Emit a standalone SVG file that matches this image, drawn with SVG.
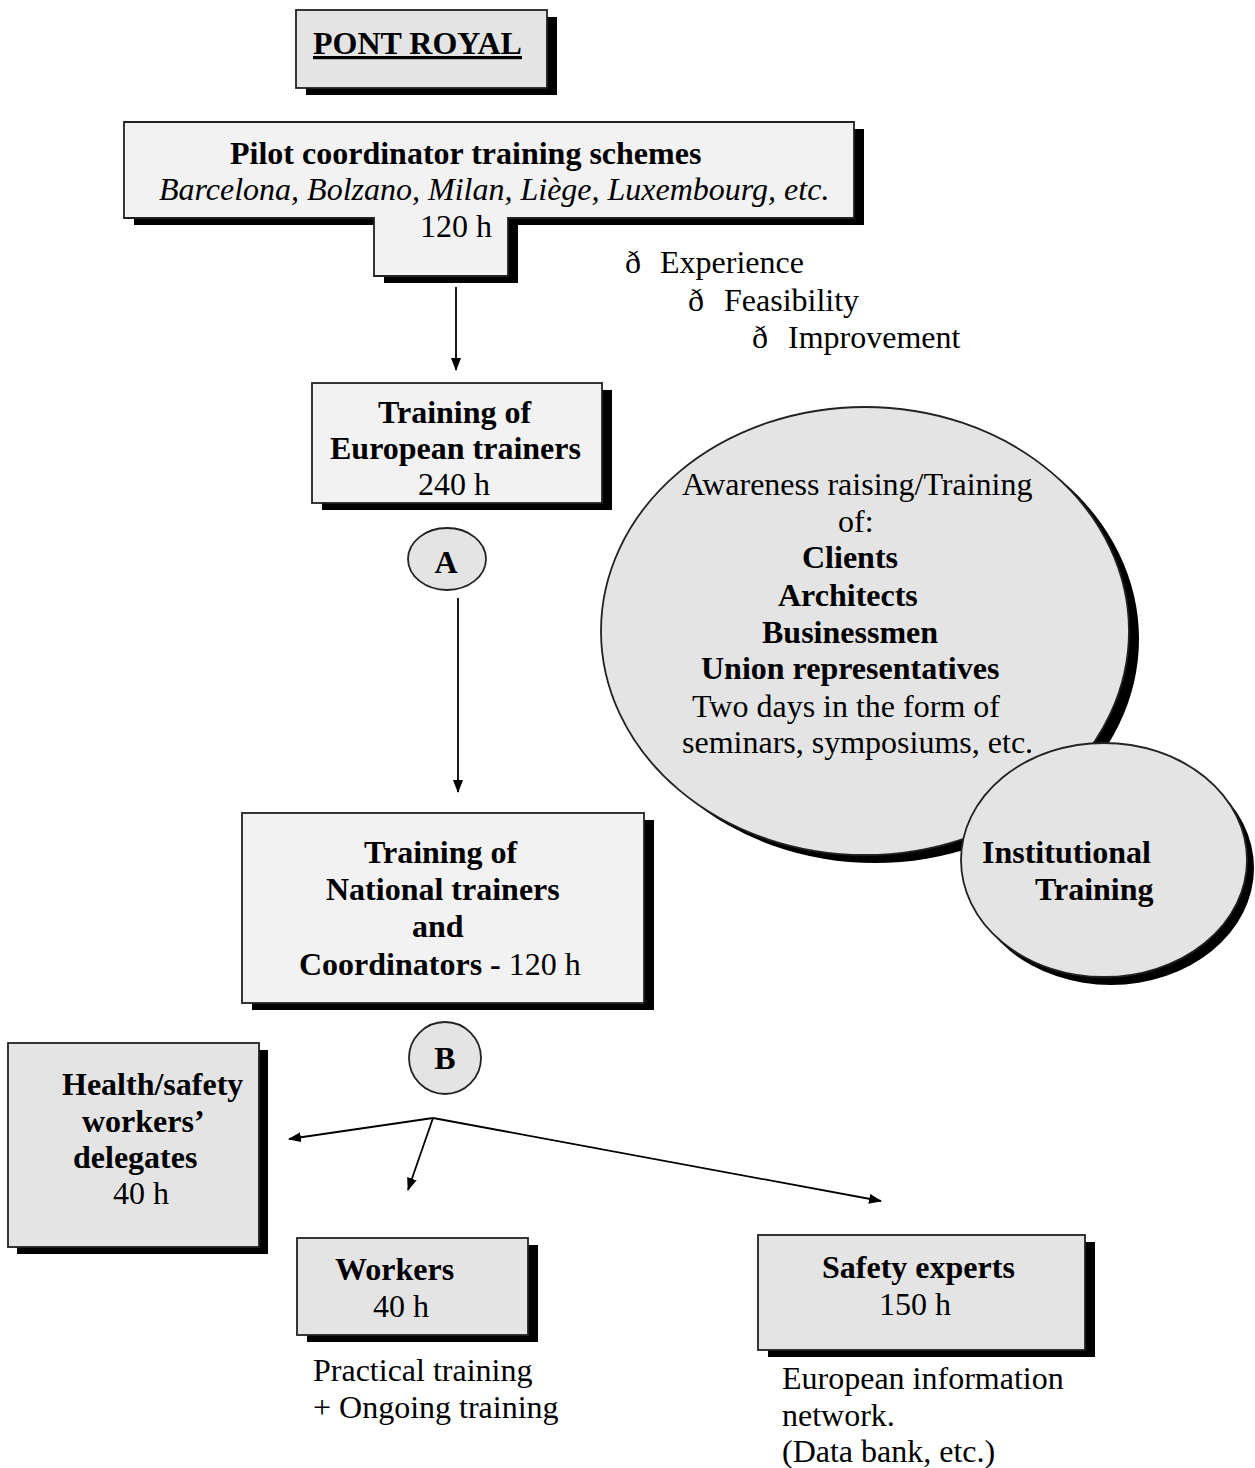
<svg xmlns="http://www.w3.org/2000/svg" width="1255" height="1468" viewBox="0 0 1255 1468">
<defs>
<style>
text{font-family:"Liberation Serif","Times New Roman",serif;font-size:32px;fill:#000}
.b{font-weight:bold}
.i{font-style:italic}
.light{fill:#f2f2f2;stroke:#222;stroke-width:1.8}
.mid{fill:#e4e4e4;stroke:#222;stroke-width:1.8}
.shadow{fill:#000;stroke:none}
.conn{stroke:#000;stroke-width:1.8;fill:none;marker-end:url(#arr)}
</style>
<marker id="arr" markerWidth="13" markerHeight="10" refX="12" refY="5" orient="auto" markerUnits="userSpaceOnUse">
<path d="M0,0 L13,5 L0,10 Z" fill="#000"/>
</marker>
</defs>
<rect width="1255" height="1468" fill="#fff"/>

<g id="pont-royal">
<rect class="shadow" x="306" y="17" width="251" height="78"/>
<rect class="mid" x="296" y="10" width="251" height="78"/>
<text class="b" x="313" y="54" text-decoration="underline">PONT ROYAL</text>
</g>

<g id="pilot">
<path class="shadow" d="M134,129 H864 V225 H518 V283 H384 V225 H134 Z"/>
<path class="light" d="M124,122 H854 V218 H508 V276 H374 V218 H124 Z"/>
<text class="b" x="230" y="164">Pilot coordinator training schemes</text>
<text class="i" x="159" y="200">Barcelona, Bolzano, Milan, Liège, Luxembourg, etc.</text>
<text x="420" y="237">120 h</text>
</g>

<g id="outcomes">
<text x="625" y="273">ð<tspan x="660">Experience</tspan></text>
<text x="688" y="311">ð<tspan x="724">Feasibility</tspan></text>
<text x="752" y="348">ð<tspan x="788">Improvement</tspan></text>
</g>

<g id="european">
<rect class="shadow" x="322" y="390" width="290" height="120"/>
<rect class="light" x="312" y="383" width="290" height="120"/>
<text class="b" x="378" y="423">Training of</text>
<text class="b" x="330" y="459">European trainers</text>
<text x="418" y="495">240 h</text>
</g>

<g id="circle-a">
<ellipse class="mid" cx="447" cy="559" rx="39" ry="31"/>
<text class="b" x="446" y="573" text-anchor="middle">A</text>
</g>

<g id="awareness">
<ellipse class="shadow" cx="875" cy="639" rx="264" ry="224"/>
<ellipse class="mid" cx="865" cy="631" rx="264" ry="224"/>
<text x="682" y="495">Awareness raising/Training</text>
<text x="838" y="532">of:</text>
<text class="b" x="802" y="568">Clients</text>
<text class="b" x="778" y="606">Architects</text>
<text class="b" x="762" y="643">Businessmen</text>
<text class="b" x="701" y="679">Union representatives</text>
<text x="692" y="717">Two days in the form of</text>
<text x="682" y="753">seminars, symposiums, etc.</text>
</g>

<g id="institutional">
<ellipse class="shadow" cx="1111" cy="868" rx="143" ry="117"/>
<ellipse class="mid" cx="1104" cy="860" rx="143" ry="117"/>
<text class="b" x="982" y="863">Institutional</text>
<text class="b" x="1035" y="900">Training</text>
</g>

<g id="national">
<rect class="shadow" x="252" y="820" width="402" height="190"/>
<rect class="light" x="242" y="813" width="402" height="190"/>
<text class="b" x="364" y="863">Training of</text>
<text class="b" x="326" y="900">National trainers</text>
<text class="b" x="412" y="937">and</text>
<text x="299" y="975"><tspan class="b">Coordinators -</tspan> 120 h</text>
</g>

<g id="circle-b">
<ellipse class="mid" cx="445" cy="1058" rx="36" ry="36"/>
<text class="b" x="445" y="1069" text-anchor="middle">B</text>
</g>

<g id="health">
<rect class="shadow" x="17" y="1050" width="251" height="204"/>
<rect class="mid" x="8" y="1043" width="251" height="204"/>
<text class="b" x="62" y="1095">Health/safety</text>
<text class="b" x="82" y="1132">workers’</text>
<text class="b" x="73" y="1168">delegates</text>
<text x="113" y="1204">40 h</text>
</g>

<g id="workers">
<rect class="shadow" x="307" y="1245" width="231" height="97"/>
<rect class="mid" x="297" y="1238" width="231" height="97"/>
<text class="b" x="335" y="1280">Workers</text>
<text x="373" y="1317">40 h</text>
<text x="313" y="1381">Practical training</text>
<text x="313" y="1418">+ Ongoing training</text>
</g>

<g id="safety">
<rect class="shadow" x="768" y="1242" width="327" height="115"/>
<rect class="mid" x="758" y="1235" width="327" height="115"/>
<text class="b" x="822" y="1278">Safety experts</text>
<text x="879" y="1315">150 h</text>
<text x="782" y="1389">European information</text>
<text x="782" y="1426">network.</text>
<text x="782" y="1462">(Data bank, etc.)</text>
</g>

<g id="connectors">
<line class="conn" x1="456" y1="287" x2="456" y2="370"/>
<line class="conn" x1="458" y1="598" x2="458" y2="792"/>
<line class="conn" x1="433" y1="1118" x2="289" y2="1139"/>
<line class="conn" x1="433" y1="1118" x2="408" y2="1190"/>
<line class="conn" x1="433" y1="1118" x2="881" y2="1201"/>
</g>
</svg>
